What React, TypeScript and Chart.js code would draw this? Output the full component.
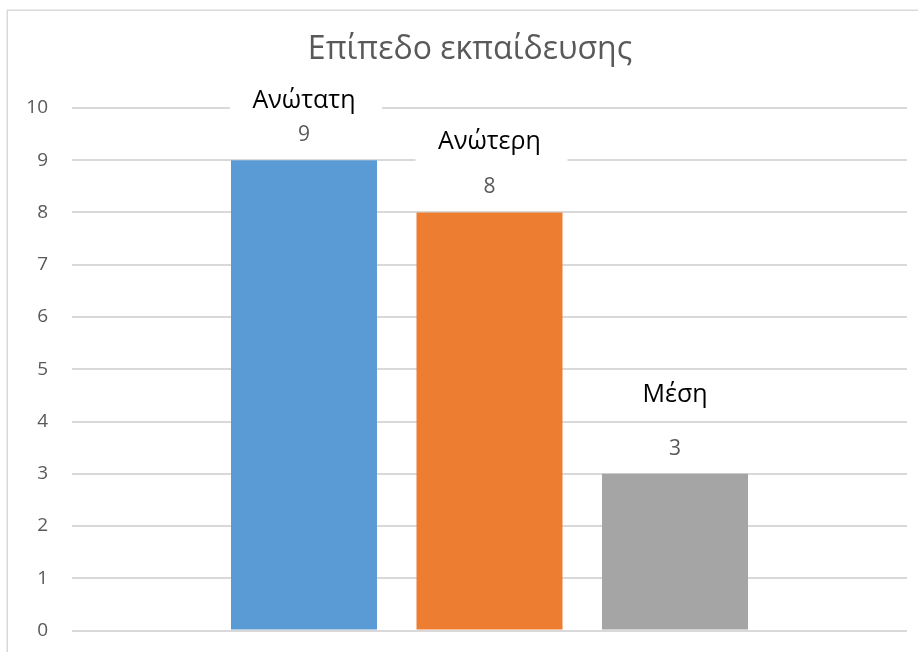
import React, { useEffect, useRef } from 'react';
import { Chart, registerables } from 'chart.js';

Chart.register(...registerables);

const TITLE = 'Επίπεδο εκπαίδευσης';
const CATEGORIES = [''];
const SERIES_NAMES = ['Ανώτατη', 'Ανώτερη', 'Μέση'];
const SERIES_VALUES = [9, 8, 3];
const SERIES_COLORS = ['#5B9BD5', '#ED7D31', '#A5A5A5'];
const Y_MIN = 0;
const Y_MAX = 10;
const Y_STEP = 1;

// label placement (style): how far above each bar top the series name sits
const NAME_LIFT = [59, 71, 79];
const VALUE_LIFT = 25;

const FONT = '"Open Sans", "Noto Sans", sans-serif';

const decorPlugin = {
  id: 'excelDecor',
  beforeDraw(chart: any) {
    const ctx = chart.ctx;
    ctx.save();
    ctx.fillStyle = '#ffffff';
    ctx.fillRect(0, 0, chart.width, chart.height);
    ctx.strokeStyle = '#d9d9d9';
    ctx.lineWidth = 1.5;
    ctx.strokeRect(7.25, 10.25, chart.width + 40, chart.height + 40);
    // chart title (Excel-style, centred on the outer frame)
    ctx.font = `32px ${FONT}`;
    ctx.fillStyle = '#595959';
    ctx.textAlign = 'center';
    ctx.textBaseline = 'middle';
    ctx.fillText(TITLE, 470, 50);
    ctx.restore();
  },
  afterDatasetsDraw(chart: any) {
    const ctx = chart.ctx;
    ctx.save();
    chart.data.datasets.forEach((ds: any, i: number) => {
      const meta = chart.getDatasetMeta(i);
      meta.data.forEach((bar: any, j: number) => {
        const v = ds.data[j];
        const x = bar.x;
        const top = bar.y;
        ctx.textAlign = 'center';
        ctx.textBaseline = 'middle';
        // value label
        ctx.font = `21px ${FONT}`;
        ctx.fillStyle = '#595959';
        ctx.fillText(String(v), x, top - VALUE_LIFT);
        // series name label with white box
        const ny = top - NAME_LIFT[i];
        ctx.fillStyle = '#ffffff';
        ctx.fillRect(x - 74, ny - 20, 152, 40);
        ctx.font = `25px ${FONT}`;
        ctx.fillStyle = '#000000';
        ctx.fillText(ds.label, x, ny);
      });
    });
    ctx.restore();
  },
};

export default function App() {
  const ref = useRef<HTMLCanvasElement | null>(null);

  useEffect(() => {
    if (!ref.current) return;
    const chart = new Chart(ref.current, {
      type: 'bar',
      data: {
        labels: CATEGORIES,
        datasets: SERIES_NAMES.map((name, i) => ({
          label: name,
          data: [SERIES_VALUES[i]],
          backgroundColor: SERIES_COLORS[i],
          borderWidth: 0,
          categoryPercentage: 0.6665,
          barPercentage: 0.787,
        })),
      },
      options: {
        responsive: false,
        animation: false,
        layout: { padding: { left: 0, right: 11, top: 108, bottom: 21.5 } },
        plugins: {
          legend: { display: false },
          tooltip: { enabled: false },
          title: { display: false },
        },
        scales: {
          x: { display: false },
          y: {
            min: Y_MIN,
            max: Y_MAX,
            ticks: {
              stepSize: Y_STEP,
              color: '#595959',
              font: { family: FONT, size: 19 },
              padding: 24,
            },
            grid: { color: '#d9d9d9', lineWidth: 2, drawTicks: false },
            border: { display: false },
            afterFit: (s: any) => {
              s.width = 72;
              s.paddingTop = 0;
              s.paddingBottom = 0;
            },
          },
        },
      },
      plugins: [decorPlugin],
    });
    return () => chart.destroy();
  }, []);

  return (
    <div style={{ position: 'fixed', left: 0, top: 0, width: 918, height: 652, overflow: 'hidden' }}>
      <canvas ref={ref} width={918} height={652} />
    </div>
  );
}
